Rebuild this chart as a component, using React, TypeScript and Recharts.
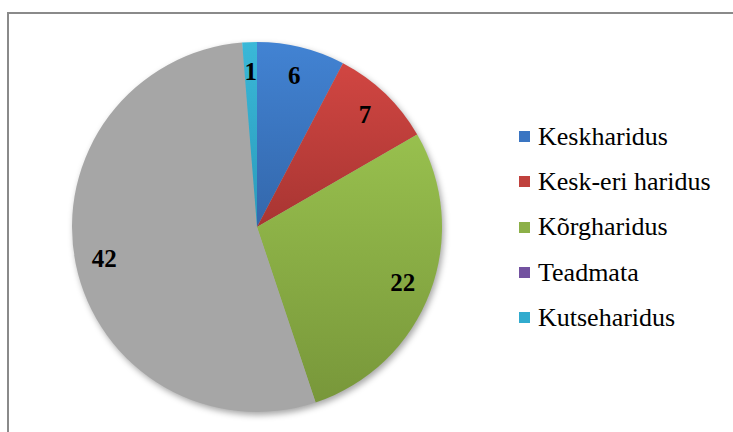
import { PieChart, Pie, Cell, Legend } from 'recharts';

const categories = ['Keskharidus', 'Kesk-eri haridus', 'Kõrgharidus', 'Teadmata', '', 'Kutseharidus'];
const values = [6, 7, 22, 0, 42, 1];
const legendNames = ['Keskharidus', 'Kesk-eri haridus', 'Kõrgharidus', 'Teadmata', 'Kutseharidus'];

const sliceColors = [
  ['#4283d3', '#3367ab'],
  ['#d14642', '#a83532'],
  ['#98c04e', '#78973a'],
  ['#8064a2', '#644c83'],
  ['#a6a6a6', '#a6a6a6'],
  ['#3ab8d8', '#2a9bbb'],
];
const legendColors = ['#3a75c2', '#c0413d', '#8cb048', '#7352a0', '#31abce'];

const data = categories.map((name, i) => ({ name, value: values[i] }));

const RAD = Math.PI / 180;
const SERIF = '"Liberation Serif", "Times New Roman", Tinos, serif';

const renderLabel = (props: any) => {
  const { cx, cy, midAngle, value } = props;
  if (!value) return null;
  const r = 156;
  const x = cx + r * Math.cos(-midAngle * RAD);
  const y = cy + r * Math.sin(-midAngle * RAD);
  return (
    <text
      x={x}
      y={y}
      textAnchor="middle"
      dominantBaseline="central"
      fill="#000"
      style={{ fontFamily: SERIF, fontWeight: 'bold', fontSize: 25 }}
    >
      {value}
    </text>
  );
};

const renderLegend = () => (
  <div style={{ fontFamily: SERIF, fontSize: 26, color: '#000' }}>
    {legendNames.map((name, i) => (
      <div key={name} style={{ display: 'flex', alignItems: 'center', height: 45.3 }}>
        <span
          style={{
            display: 'inline-block',
            width: 11,
            height: 11,
            background: legendColors[i],
            marginRight: 8,
          }}
        />
        <span style={{ lineHeight: 1 }}>{name}</span>
      </div>
    ))}
  </div>
);

const App = () => {
  return (
    <div style={{ position: 'relative', width: 733, height: 432, background: '#fff', overflow: 'hidden' }}>
      <style>{`body { margin: 0; } .recharts-pie { filter: drop-shadow(2px 3px 3px rgba(0,0,0,0.35)); }`}</style>
      <div
        style={{
          position: 'absolute',
          left: 7,
          top: 12,
          width: 760,
          height: 460,
          borderTop: '2px solid #8a8a8a',
          borderLeft: '2px solid #8a8a8a',
        }}
      />
      <div style={{ position: 'absolute', left: 0, top: 0 }}>
        <PieChart width={733} height={432} margin={{ top: 0, right: 0, bottom: 0, left: 0 }}>
          <defs>
            {sliceColors.map((c, i) => (
              <linearGradient key={i} id={`slice${i}`} x1="0" y1="0" x2="0" y2="1">
                <stop offset="0%" stopColor={c[0]} />
                <stop offset="100%" stopColor={c[1]} />
              </linearGradient>
            ))}
          </defs>
          <Pie
            data={data}
            dataKey="value"
            nameKey="name"
            cx={257}
            cy={227}
            outerRadius={185}
            startAngle={90}
            endAngle={-270}
            stroke="none"
            label={renderLabel}
            labelLine={false}
            isAnimationActive={false}
          >
            {data.map((d, i) => (
              <Cell key={i} fill={`url(#slice${i})`} />
            ))}
          </Pie>
          <Legend
            layout="vertical"
            content={renderLegend}
            wrapperStyle={{ position: 'absolute', left: 519, top: 114, width: 210 }}
          />
        </PieChart>
      </div>
    </div>
  );
};

export default App;
